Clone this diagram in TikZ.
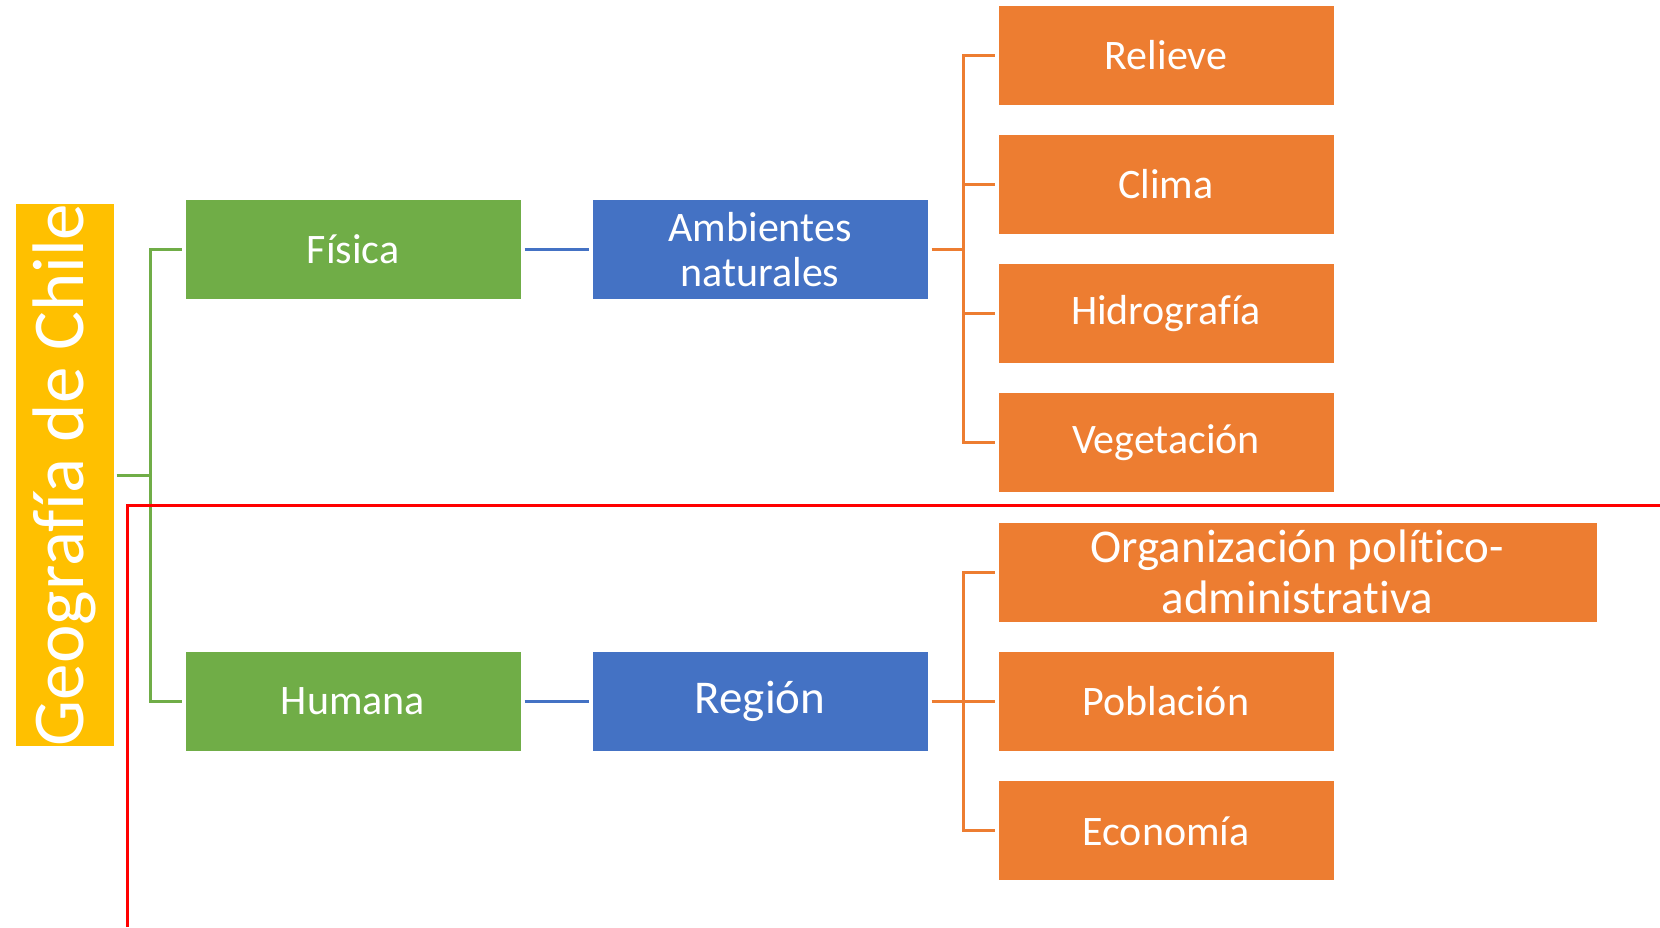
\documentclass[tikz,border=0pt]{standalone}
\usepackage{fontspec}
\setmainfont{Carlito}[Ligatures=NoCommon]
\usepackage{xcolor}
\usepackage{tikz}
\usetikzlibrary{shapes,calc}

\definecolor{cYellow}{HTML}{FFC000}
\definecolor{cGreen}{HTML}{70AD47}
\definecolor{cBlue}{HTML}{4472C4}
\definecolor{cOrange}{HTML}{ED7D31}
\definecolor{cRed}{HTML}{FF0000}

\tikzstyle{tsText} = [ 
    text=white, 
    font=\fontsize{42}{45}\selectfont
]
\tikzstyle{tsWraptext} = [ 
    tsText, 
    text centered, 
    align=center
]
\tikzstyle{tsBox} = [ 
    rectangle,
    tsWraptext,               
    draw=white,
    line width=1pt,
    inner sep=0pt,
    minimum width=336pt,
    minimum height=100pt]
\tikzstyle{tsGreen} = [tsBox, fill=cGreen]
\tikzstyle{tsBlue} = [tsBox, fill=cBlue]
\tikzstyle{tsOrange} = [tsBox, fill=cOrange]
\tikzstyle{tsGreenLine} = [draw=cGreen, line width=3pt]
\tikzstyle{tsBlueLine} = [draw=cBlue, line width=3pt]
\tikzstyle{tsOrangeLine} = [draw=cOrange, line width=3pt]

\begin{document}
\begin{tikzpicture}[x=1pt, y=-1pt]
        
        \useasboundingbox (0,0) rectangle (1660,927);
        
        % main title
        \node[  tsBox, 
                rotate=90,
                minimum width=540pt,
                minimum height=99pt,
                font=\fontsize{73}{78}\selectfont,
                fill=cYellow] (geo) at (64.5,475) {Geografía de Chile};
                
        % second level
        \node[tsGreen] (fisica) at (353,249.5) {Física};
        \node[tsGreen] (humana) at (353,701) {Humana};
        
        \node[tsBlue] (ambientes) at (760,249.5) {Ambientes\\naturales};
        \node[tsBlue, font=\fontsize{47}{50}\selectfont] (region) at (760,701) {Región};
        
        % leaves
        \node[tsOrange] (relieve) at (1166,55) {Relieve};
        \node[tsOrange] (clima) at (1166,184.3) {Clima};
        \node[tsOrange] (hidro) at (1166,313.6) {Hidrografía};
        \node[tsOrange] (vege) at (1166,442.9) {Vegetación};
        \node[  tsOrange, 
                minimum width=599pt,
                font=\fontsize{47}{51}\selectfont] (organiz) at (1297.5,572.2) {Organización político-\\administrativa};
        \node[tsOrange] (poblacion) at (1166,701.5) {Población};
        \node[tsOrange] (economia) at (1166,830.8) {Economía};
        
        \coordinate (gjoin) at (150,475);
        \coordinate (ojoinA) at (963,249.5);
        \coordinate (ojoinB) at (963,701);
        
        \draw[tsGreenLine] ([xshift=2pt]geo.south) -- (gjoin);
        \draw[tsGreenLine] ([xshift=-3pt]fisica.west) -| (gjoin) |- ([xshift=-3pt]humana.west);
        
        \draw[tsBlueLine] ([xshift=3pt]fisica.east) -- ([xshift=-3pt]ambientes.west);
        \draw[tsBlueLine] ([xshift=3pt]humana.east) -- ([xshift=-3pt]region.west);
        
        \draw[tsOrangeLine] ([xshift=3pt]ambientes.east) -- (ojoinA);
        \foreach \leaf in {relieve, clima, hidro, vege}
            \draw[tsOrangeLine] (ojoinA) |- ([xshift=-3pt]\leaf.west);
        
        \draw[tsOrangeLine] ([xshift=3pt]region.east) -- (ojoinB);
        \foreach \leaf in {organiz, poblacion, economia}
            \draw[tsOrangeLine] (ojoinB) |- ([xshift=-3pt]\leaf.west);
        
        % red frame
        \draw[cRed, line width=3pt] (127,927) -- (127,505) -- (1660,505);
        
\end{tikzpicture}
\end{document}
